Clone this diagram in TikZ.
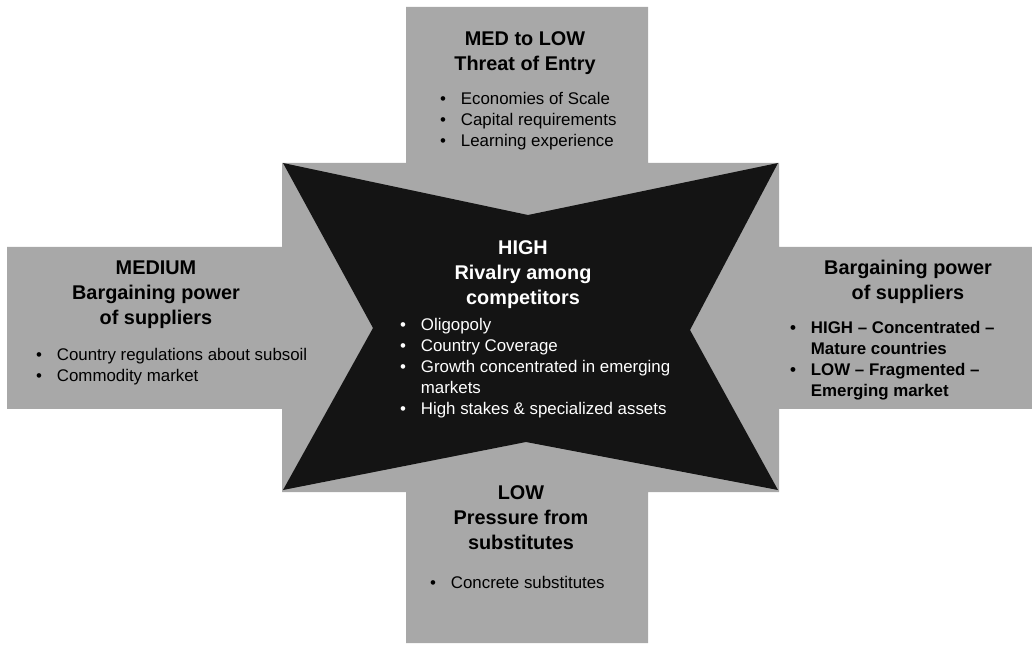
\documentclass[tikz,border=0pt]{standalone}
\usepackage{fontspec}
\setmainfont{Liberation Sans}
\usetikzlibrary{positioning}
\definecolor{forcegray}{RGB}{168,168,168}
\definecolor{rivaldark}{RGB}{20,20,20}
\newcommand{\forceFill}{forcegray}
\newcommand{\rivalFill}{rivaldark}
\newcommand{\bul}{\makebox[11.9pt][l]{\textbullet}}
\newcommand{\cont}{\hspace*{11.9pt}}

\begin{document}
\begin{tikzpicture}[x=0.02cm,y=-0.02cm,inner sep=0pt,outer sep=0pt,
	head/.style={font=\bfseries\fontsize{11.3}{14.2}\selectfont,align=center},
	items/.style={font=\fontsize{9.6}{11.9}\selectfont,align=left,anchor=north west}]
	\useasboundingbox (0,0) rectangle (1032,645);
	% gray cross of the four forces
	\fill[\forceFill] (406,7) -- (648,7) -- (648,163) -- (779,163) -- (779,247) -- (1032,247)
		-- (1032,409) -- (779,409) -- (779,492) -- (648,492) -- (648,643) -- (406,643)
		-- (406,492) -- (282,492) -- (282,409) -- (7,409) -- (7,247) -- (282,247)
		-- (282,163) -- (406,163) -- cycle;
	% dark star in the middle
	\fill[\rivalFill] (283,163) -- (528,215) -- (778,163) -- (690,330) -- (778,490)
		-- (526,442) -- (283,490) -- (373,328) -- cycle;

	\node[head] (entry) at (525,53) {MED to LOW\\Threat of Entry};
	\node[items] (entrylist) at (440,92.5) {\bul Economies of Scale\\\bul Capital requirements\\\bul Learning experience};

	\node[head] (suppl) at (156,295) {MEDIUM\\Bargaining power\\of suppliers};
	\node[items] (suppllist) at (36,348.5) {\bul Country regulations about subsoil\\\bul Commodity market};

	\node[head] (buyer) at (908,282) {Bargaining power\\of suppliers};
	\node[items,font=\bfseries\fontsize{9.6}{11.9}\selectfont] (buyerlist) at (790,321.5)
		{\bul HIGH -- Concentrated --\\\cont Mature countries\\\bul LOW -- Fragmented --\\\cont Emerging market};

	\node[head] (subst) at (521,518) {LOW\\Pressure from\\substitutes};
	\node[items] (substlist) at (430,576.5) {\bul Concrete substitutes};

	\node[head,text=white] (rival) at (523,275) {HIGH\\Rivalry among\\competitors};
	\node[items,text=white] (rivallist) at (400,318.5) {\bul Oligopoly\\\bul Country Coverage\\\bul Growth concentrated in emerging\\\cont markets\\\bul High stakes \& specialized assets};
	%\draw[white] (rival.south) -- (rivallist.north);
\end{tikzpicture}
\end{document}
